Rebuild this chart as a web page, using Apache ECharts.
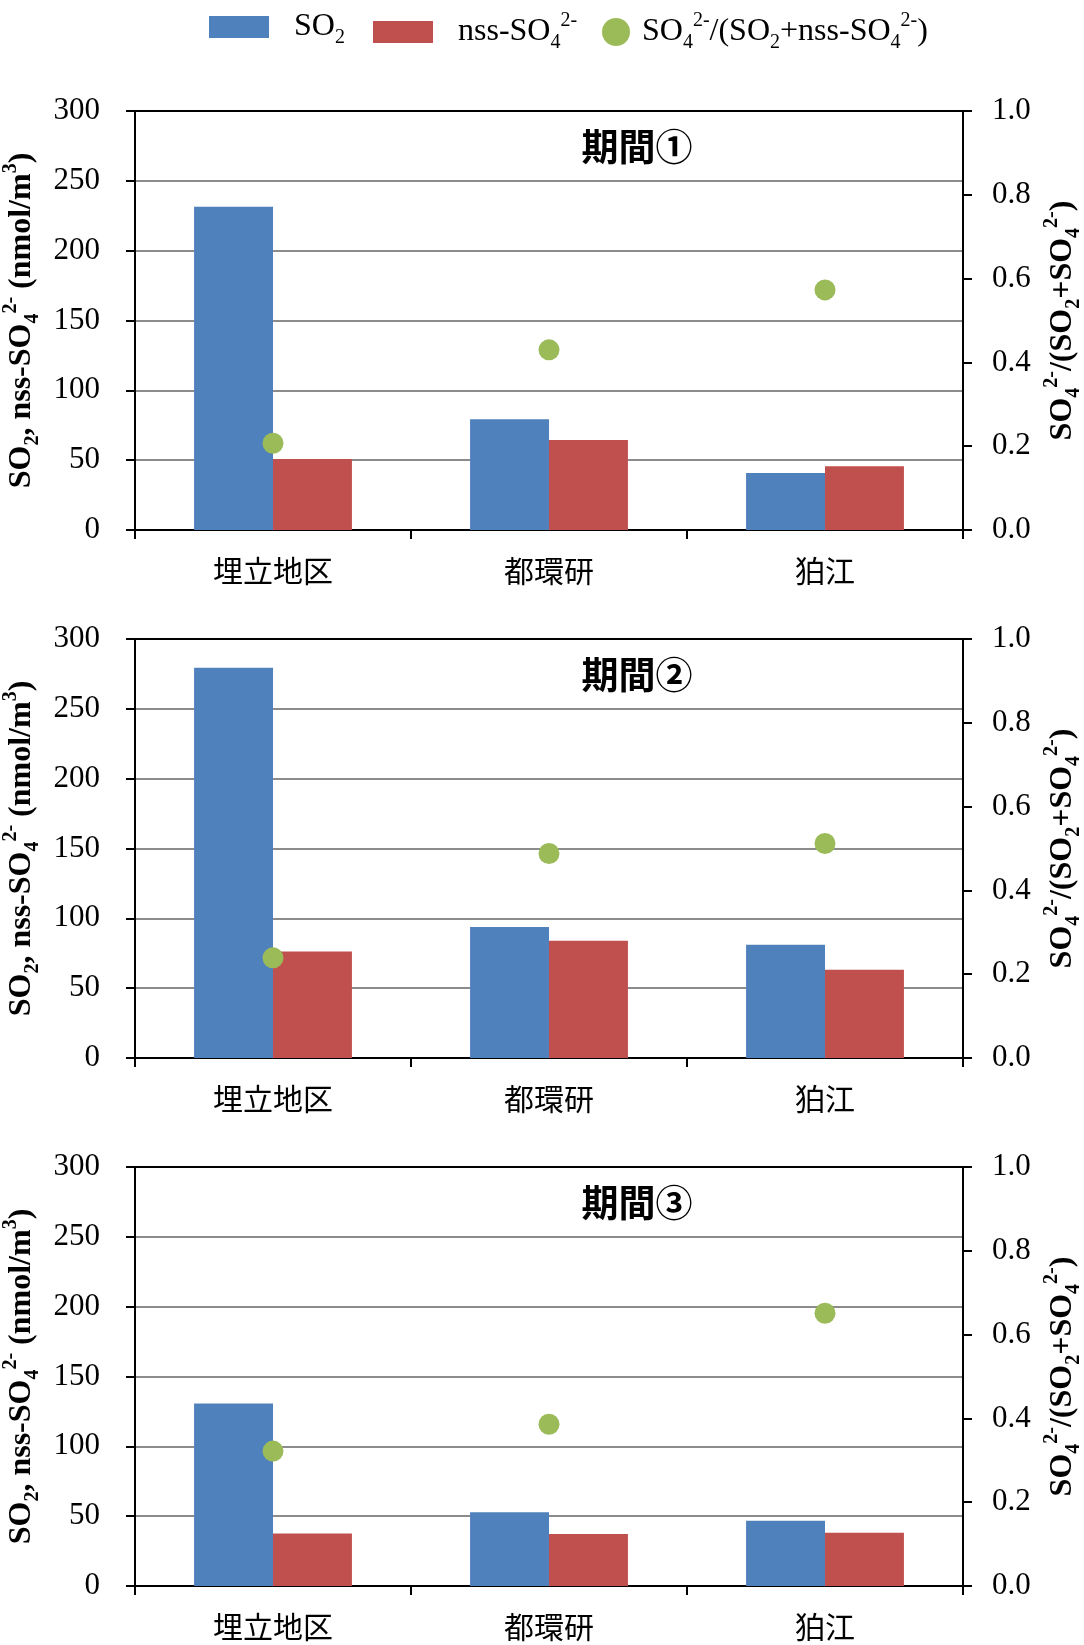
<!DOCTYPE html>
<html>
<head>
<meta charset="utf-8">
<script src="https://cdn.jsdelivr.net/npm/echarts@6/dist/echarts.min.js"></script>
<style>
  html, body { margin: 0; padding: 0; background: #fff; }
  #chart { width: 1084px; height: 1645px; }
</style>
</head>
<body>
<div id="chart"></div>
<script>
const categories = ['埋立地区', '都環研', '狛江'];
const periods = ['期間①', '期間②', '期間③'];
// SO2 (nmol/m3), one row per period
const so2 = [
  [231.5, 79.3, 40.8],
  [279.5, 93.8, 81.1],
  [130.7, 52.8, 46.8],
];
// nss-SO4 2- (nmol/m3)
const nss = [
  [50.8, 64.4, 45.6],
  [76.3, 84.0, 63.2],
  [37.6, 37.2, 38.1],
];
// SO4 2- / (SO2 + nss-SO4 2-)
const ratio = [
  [0.207, 0.430, 0.573],
  [0.239, 0.488, 0.512],
  [0.322, 0.386, 0.651],
];
const leftAxis = { min: 0, max: 300, interval: 50 };
const rightAxis = { min: 0, max: 1, interval: 0.2 };

const SERIF = 'Liberation Serif';
const CJK = 'Noto Sans CJK JP';
const BLUE = '#4F81BD';
const RED = '#C0504D';
const GREEN = '#9BBB59';

const PANEL_TOP = [111, 639, 1167];
const PANEL_H = 419;

// rich text pieces for sub/superscripts
const richText = (size, bold) => {
  const w = bold ? 'bold' : 'normal';
  const small = Math.round(size * 0.64);
  const lh = Math.round(size * 1.3);
  return {
    n: { fontFamily: SERIF, fontSize: size, fontWeight: w, color: '#000', lineHeight: lh, verticalAlign: 'middle' },
    sub: { fontFamily: SERIF, fontSize: small, fontWeight: w, color: '#000', lineHeight: small, verticalAlign: 'bottom' },
    sup: { fontFamily: SERIF, fontSize: small, fontWeight: w, color: '#000', lineHeight: small, verticalAlign: 'top' },
  };
};
const tickRich = { t: { fontFamily: SERIF, fontSize: 31, color: '#000' } };

const legendLabels = {
  SO2: '{n|SO}{sub|2}',
  nss: '{n|nss-SO}{sub|4}{sup|2-}',
  ratio: '{n|SO}{sub|4}{sup|2-}{n|/(SO}{sub|2}{n|+nss-SO}{sub|4}{sup|2-}{n|)}',
};
const leftName = '{n|SO}{sub|2}{n|, nss-SO}{sub|4}{sup|2-}{n| (nmol/m}{sup|3}{n|)}';
const rightName = '{n|SO}{sub|4}{sup|2-}{n|/(SO}{sub|2}{n|+SO}{sub|4}{sup|2-}{n|)}';

const grids = [];
const xAxes = [];
const yAxes = [];
const series = [];
const graphics = [];

periods.forEach((p, i) => {
  grids.push({
    left: 135,
    right: 121,
    top: PANEL_TOP[i],
    height: PANEL_H,
    containLabel: false,
    outerBoundsMode: 'none',
    show: true,
    borderColor: '#000',
    borderWidth: 2,
    backgroundColor: 'transparent',
  });
  xAxes.push({
    type: 'category',
    gridIndex: i,
    data: categories,
    axisLine: { lineStyle: { color: '#000', width: 2 } },
    axisTick: { show: true, length: 9, lineStyle: { color: '#000', width: 2 } },
    axisLabel: { color: '#000', fontFamily: CJK, fontSize: 30, margin: 26 },
  });
  yAxes.push({
    type: 'value',
    gridIndex: i,
    position: 'left',
    min: leftAxis.min,
    max: leftAxis.max,
    interval: leftAxis.interval,
    name: leftName,
    nameLocation: 'middle',
    nameRotate: 90,
    nameGap: 83,
    nameTextStyle: { rich: richText(32, true) },
    axisLine: { show: true, lineStyle: { color: '#000', width: 2 } },
    axisTick: { show: true, length: 9, lineStyle: { color: '#000', width: 2 } },
    axisLabel: { margin: 35, formatter: (v) => `{t|${v}}`, rich: tickRich },
    splitLine: { show: true, showMinLine: false, showMaxLine: false, lineStyle: { color: '#8c8c8c', width: 2 } },
  });
  yAxes.push({
    type: 'value',
    gridIndex: i,
    position: 'right',
    min: rightAxis.min,
    max: rightAxis.max,
    interval: rightAxis.interval,
    name: rightName,
    nameLocation: 'middle',
    nameRotate: 90,
    nameGap: 77,
    nameTextStyle: { rich: richText(32, true) },
    axisLine: { show: true, lineStyle: { color: '#000', width: 2 } },
    axisTick: { show: true, length: 9, lineStyle: { color: '#000', width: 2 } },
    axisLabel: { margin: 29, formatter: (v) => `{t|${v.toFixed(1)}}`, rich: tickRich },
    splitLine: { show: false },
  });
  series.push({
    type: 'bar',
    name: 'SO2',
    xAxisIndex: i,
    yAxisIndex: i * 2,
    data: so2[i],
    barWidth: '28.6%',
    barGap: '0%',
    itemStyle: { color: BLUE },
  });
  series.push({
    type: 'bar',
    name: 'nss',
    xAxisIndex: i,
    yAxisIndex: i * 2,
    data: nss[i],
    barWidth: '28.6%',
    barGap: '0%',
    itemStyle: { color: RED },
  });
  series.push({
    type: 'scatter',
    name: 'ratio',
    xAxisIndex: i,
    yAxisIndex: i * 2 + 1,
    data: ratio[i],
    symbol: 'circle',
    symbolSize: 21,
    itemStyle: { color: GREEN, opacity: 1 },
    z: 5,
  });
  graphics.push({
    type: 'text',
    x: 637,
    y: PANEL_TOP[i] + 36,
    style: {
      text: p,
      fill: '#000',
      font: 'bold 37px "' + CJK + '"',
      textAlign: 'center',
      textVerticalAlign: 'middle',
    },
  });
});

const legendCommon = {
  orient: 'horizontal',
  top: 6,
  selectedMode: false,
  formatter: (name) => legendLabels[name],
  textStyle: { rich: richText(32, false), padding: [0, 0, 0, 20] },
};

const option = {
  backgroundColor: '#fff',
  animation: false,
  textStyle: { fontFamily: SERIF, color: '#000' },
  legend: [
    Object.assign({}, legendCommon, {
      left: 204, itemWidth: 60, itemHeight: 22,
      data: [{ name: 'SO2', icon: 'rect' }],
    }),
    Object.assign({}, legendCommon, {
      left: 368, itemWidth: 60, itemHeight: 22,
      data: [{ name: 'nss', icon: 'rect' }],
    }),
    Object.assign({}, legendCommon, {
      left: 597, itemWidth: 28, itemHeight: 28,
      textStyle: { rich: richText(32, false), padding: [0, 0, 0, 7] },
      data: [{ name: 'ratio', icon: 'circle', itemStyle: { opacity: 1 } }],
    }),
  ],
  grid: grids,
  xAxis: xAxes,
  yAxis: yAxes,
  series: series,
  graphic: graphics,
};

const myChart = echarts.init(document.getElementById('chart'));
myChart.setOption(option);
</script>
</body>
</html>
